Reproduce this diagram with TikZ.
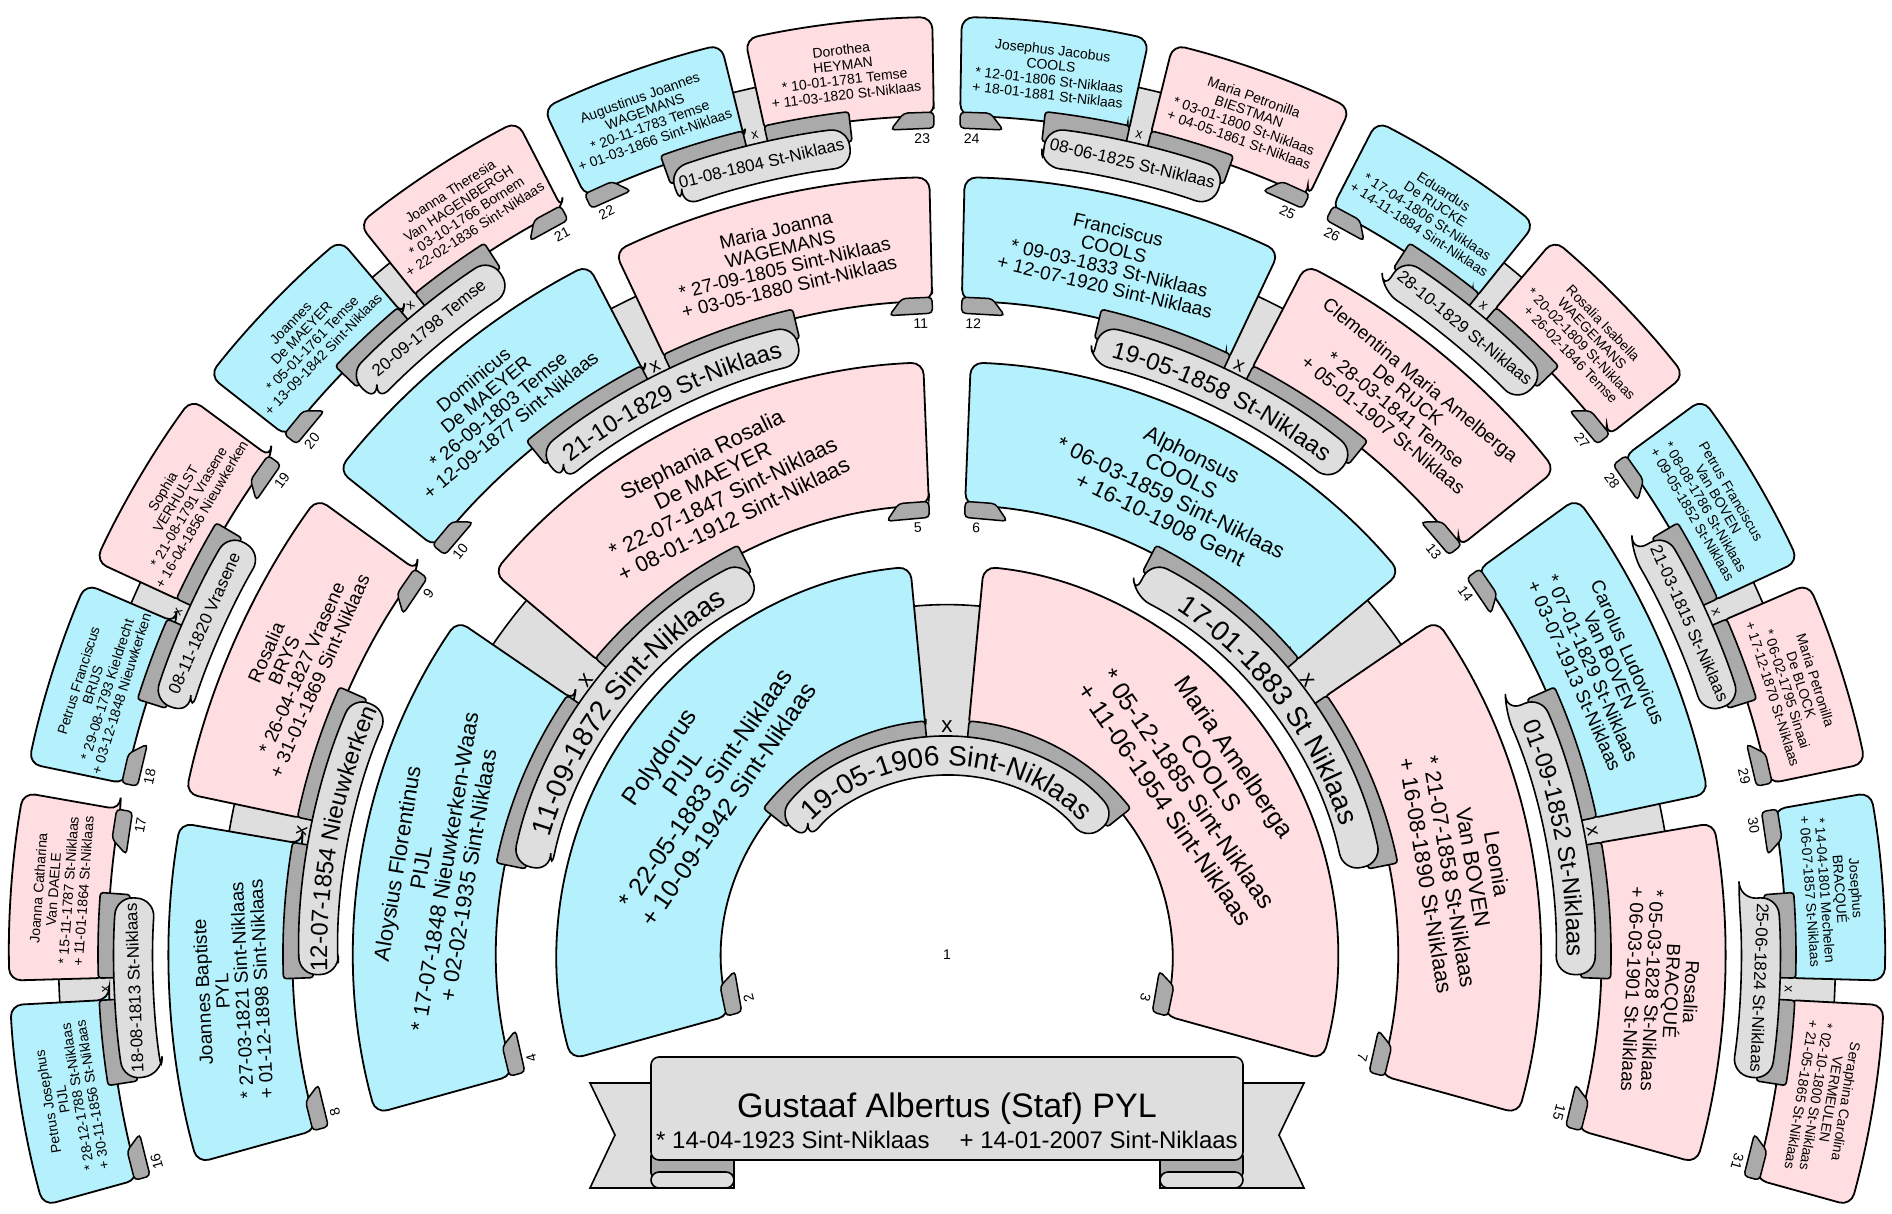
\documentclass[tikz,border=0pt]{standalone}
\usepackage{fontspec}
\setmainfont{Liberation Sans}
\usetikzlibrary{decorations.text}

\definecolor{male}{HTML}{B5F1FC}
\definecolor{female}{HTML}{FFDEE2}
\definecolor{lightrib}{HTML}{DEDEDE}
\definecolor{darkfold}{HTML}{AAAAAA}

\tikzset{
  box/.style={draw=black, line width=1.8pt, rounded corners=12pt},
  fold/.style={draw=black, line width=1.5pt, fill=darkfold, rounded corners=4pt},
  band/.style={draw=black, line width=1.6pt, fill=darkfold, rounded corners=3pt},
  ribbon/.style={draw=black, line width=1.6pt, fill=lightrib, rounded corners=18pt},
  conn/.style={draw=black, line width=1.6pt, fill=lightrib},
  ptext/.style={align=center, inner sep=0pt},
  numlabel/.style={font=\fontsize{14}{14}\selectfont, inner sep=0pt}
}

% radii, gaps and font sizes of one generation
\newcommand\setgen[1]{%
  \ifcase#1\or\or
    \def\rin{225}\def\rout{390}\def\ec{5.4}\def\en{0}\def\cf{0.76}\def\fs{25}\def\bs{28}\def\rfs{28}%
  \or
    \def\rin{450}\def\rout{593}\def\ec{2.9}\def\en{2.3}\def\cf{0.7}\def\fs{22}\def\bs{24}\def\rfs{28}%
  \or
    \def\rin{654}\def\rout{778}\def\ec{1.1}\def\en{1.3}\def\cf{0.6}\def\fs{19}\def\bs{19.5}\def\rfs{24}%
  \or
    \def\rin{839}\def\rout{938}\def\ec{0.75}\def\en{0.9}\def\cf{0.5}\def\fs{14}\def\bs{15}\def\rfs{17}%
  \fi
  \def\rfont{\fontsize{\rfs}{\rfs}\selectfont}%
  \pgfmathsetmacro\slotw{211/2^(#1-1)}}

% one ancestor: generation, index in generation, text
\newcommand\person[3]{%
  \setgen{#1}%
  \pgfmathtruncatemacro\pnum{2^(#1-1)+#2}%
  \pgfmathsetmacro\shi{195.5-#2*\slotw}%
  \pgfmathsetmacro\slo{\shi-\slotw}%
  \ifodd#2\relax
    \pgfmathsetmacro\ahi{\shi-\ec}%
    \pgfmathsetmacro\alo{\slo<-15?\slo:\slo+\en}%
    \def\col{female}\let\af\alo\def\sg{1}%
  \else
    \pgfmathsetmacro\ahi{\shi>195?\shi:\shi-\en}%
    \pgfmathsetmacro\alo{\slo+\ec}%
    \def\col{male}\let\af\ahi\def\sg{-1}%
  \fi
  \pgfmathsetmacro\amid{(\alo+\ahi)/2}%
  \pgfmathsetmacro\rmid{(\rin+\rout)/2}%
  \filldraw[box, fill=\col] (\alo:\rin) -- (\alo:\rout)
    arc[start angle=\alo, end angle=\ahi, radius=\rout] -- (\ahi:\rin)
    arc[start angle=\ahi, end angle=\alo, radius=\rin] -- cycle;
  \pgfmathsetmacro\foldA{\af+\sg*30/\rin*57.3}%
  \pgfmathsetmacro\foldB{\af+\sg*44/\rin*57.3}%
  \pgfmathsetmacro\rinP{\rin+4}\pgfmathsetmacro\rinM{\rin-12}%
  \filldraw[fold] (\af:\rinP) -- (\foldA:\rinP) -- (\foldB:\rinM) -- (\af:\rinM) -- cycle;
  \pgfmathsetmacro\labR{\rin-22}%
  \pgfmathsetmacro\labA{\af+\sg*12/\labR*57.3}%
  \node[numlabel, rotate=\af-90] (n\pnum) at (\labA:\labR) {\pnum};
  \node[ptext, font=\fontsize{\fs}{\bs}\selectfont, rotate=\amid-90] (p\pnum) at (\amid:\rmid) {#3};
}

% light grey link behind a couple
\newcommand\couplelink[2]{%
  \setgen{#1}%
  \pgfmathsetmacro\cAng{195.5-(2*#2+1)*\slotw}%
  \pgfmathsetmacro\gA{\cAng-\ec-0.8}\pgfmathsetmacro\gB{\cAng+\ec+0.8}%
  \pgfmathsetmacro\conA{\rin-25}\pgfmathsetmacro\conB{\rin+\cf*(\rout-\rin)}%
  \filldraw[conn] (\gA:\conA) -- (\gA:\conB)
    arc[start angle=\gA, end angle=\gB, radius=\conB] -- (\gB:\conA)
    arc[start angle=\gB, end angle=\gA, radius=\conA] -- cycle;
}

% marriage ribbon of a couple
\newcommand\couplevow[3]{%
  \setgen{#1}%
  \pgfmathsetmacro\cAng{195.5-(2*#2+1)*\slotw}%
  \pgfmathtruncatemacro\pnum{2^(#1-1)+2*#2}%
  \pgfmathsetmacro\hs{0.48*\slotw}%
  \pgfmathsetmacro\bandA{\rin-20}\pgfmathsetmacro\bandB{\rin+10}%
  \pgfmathsetmacro\slant{3/\rin*57.3}%
  \pgfmathsetmacro\uA{\cAng+\ec}\pgfmathsetmacro\uB{\cAng+\hs+\slant}%
  \pgfmathsetmacro\dA{\cAng-\ec}\pgfmathsetmacro\dB{\cAng-\hs-\slant}%
  \filldraw[band] (\uA:\bandA) -- (\uA:\bandB)
    arc[start angle=\uA, end angle=\uB, radius=\bandB] -- (\uB:\bandA)
    arc[start angle=\uB, end angle=\uA, radius=\bandA] -- cycle;
  \filldraw[band] (\dA:\bandA) -- (\dA:\bandB)
    arc[start angle=\dA, end angle=\dB, radius=\bandB] -- (\dB:\bandA)
    arc[start angle=\dB, end angle=\dA, radius=\bandA] -- cycle;
  \pgfmathsetmacro\ribA{\rin-45}\pgfmathsetmacro\ribB{\rin-6}%
  \pgfmathsetmacro\eA{\cAng+\hs}\pgfmathsetmacro\eB{\cAng-\hs}%
  \filldraw[ribbon] (\eA:\ribA) -- (\eA:\ribB)
    arc[start angle=\eA, end angle=\eB, radius=\ribB] -- (\eB:\ribA)
    arc[start angle=\eB, end angle=\eA, radius=\ribA] -- cycle;
  \ifnum#1=5
    \pgfmathsetmacro\rmid{\rin-25.5}%
    \node[font=\rfont, rotate=\cAng-90, inner sep=0pt] (m\pnum) at (\cAng:\rmid) {#3};
  \else
    \pgfmathsetmacro\rbase{\rin-25.5-0.36*\rfs}%
    \pgfmathsetmacro\txA{\cAng+\hs+3}\pgfmathsetmacro\txB{\cAng-\hs-3}%
    \path[decorate, decoration={text along path, text align=center, text={|\rfont|#3}}]
      (\txA:\rbase) arc[start angle=\txA, end angle=\txB, radius=\rbase];
  \fi
  \pgfmathsetmacro\xfs{0.8*\rfs}\pgfmathsetmacro\xr{\rin+3}%
  \node[font=\fontsize{\xfs}{\xfs}\selectfont, rotate=\cAng-90, inner sep=0pt] (x\pnum) at (\cAng:\xr) {x};
}

\begin{document}
\begin{tikzpicture}[x=1pt, y=1pt]
\useasboundingbox (-947,-258) rectangle (945,955);

% root banner
\filldraw[conn] (-357,-128) -- (-213,-128) -- (-213,-233) -- (-357,-233) -- (-332,-180) -- cycle;
\filldraw[conn] (357,-128) -- (213,-128) -- (213,-233) -- (357,-233) -- (332,-180) -- cycle;
\filldraw[band] (-296,-221) rectangle (-213,-198);
\filldraw[band] (296,-221) rectangle (213,-198);
\filldraw[ribbon, rounded corners=8pt] (-296,-205) rectangle (296,-102);
\filldraw[ribbon, rounded corners=8pt] (-296,-233) rectangle (-213,-217);
\filldraw[ribbon, rounded corners=8pt] (296,-233) rectangle (213,-217);
\node[font=\fontsize{34}{34}\selectfont, anchor=base] (p1) at (0,-162) {Gustaaf Albertus (Staf) PYL};
\node[font=\fontsize{24}{24}\selectfont, anchor=base] (d1) at (0,-193) {* 14-04-1923 Sint-Niklaas\hspace{30pt}+ 14-01-2007 Sint-Niklaas};
\node[numlabel] (n1) at (0,0) {1};

% links behind the couples
\couplelink{2}{0}
\foreach \cp in {0,1} {\couplelink{3}{\cp}}
\foreach \cp in {0,...,3} {\couplelink{4}{\cp}}
\foreach \cp in {0,...,7} {\couplelink{5}{\cp}}

% generation 2
\person{2}{0}{Polydorus\\PIJL\\* 22-05-1883 Sint-Niklaas\\+ 10-09-1942 Sint-Niklaas}
\person{2}{1}{Maria Amelberga\\COOLS\\* 05-12-1885 Sint-Niklaas\\+ 11-06-1954 Sint-Niklaas}
% generation 3
\person{3}{0}{Aloysius Florentinus\\PIJL\\* 17-07-1848 Nieuwkerken-Waas\\+ 02-02-1935 Sint-Niklaas}
\person{3}{1}{Stephania Rosalia\\De MAEYER\\* 22-07-1847 Sint-Niklaas\\+ 08-01-1912 Sint-Niklaas}
\person{3}{2}{Alphonsus\\COOLS\\* 06-03-1859 Sint-Niklaas\\+ 16-10-1908 Gent}
\person{3}{3}{Leonia\\Van BOVEN\\* 21-07-1858 St-Niklaas\\+ 16-08-1890 St-Niklaas}
% generation 4
\person{4}{0}{Joannes Baptiste\\PYL\\* 27-03-1821 Sint-Niklaas\\+ 01-12-1898 Sint-Niklaas}
\person{4}{1}{Rosalia\\BRYS\\* 26-04-1827 Vrasene\\+ 31-01-1869 Sint-Niklaas}
\person{4}{2}{Dominicus\\De MAEYER\\* 26-09-1803 Temse\\+ 12-09-1877 Sint-Niklaas}
\person{4}{3}{Maria Joanna\\WAGEMANS\\* 27-09-1805 Sint-Niklaas\\+ 03-05-1880 Sint-Niklaas}
\person{4}{4}{Franciscus\\COOLS\\* 09-03-1833 St-Niklaas\\+ 12-07-1920 Sint-Niklaas}
\person{4}{5}{Clementina Maria Amelberga\\De RIJCK\\* 28-03-1841 Temse\\+ 05-01-1907 St-Niklaas}
\person{4}{6}{Carolus Ludovicus\\Van BOVEN\\* 07-01-1829 St-Niklaas\\+ 03-07-1913 St-Niklaas}
\person{4}{7}{Rosalia\\BRACQUÉ\\* 05-03-1828 St-Niklaas\\+ 06-03-1901 St-Niklaas}
% generation 5
\person{5}{0}{Petrus Josephus\\PIJL\\* 28-12-1788 St-Niklaas\\+ 30-11-1856 St-Niklaas}
\person{5}{1}{Joanna Catharina\\Van DAELE\\* 15-11-1787 St-Niklaas\\+ 11-01-1864 St-Niklaas}
\person{5}{2}{Petrus Franciscus\\BRIJS\\* 29-08-1793 Kieldrecht\\+ 03-12-1848 Nieuwkerken}
\person{5}{3}{Sophia\\VERHULST\\* 21-08-1791 Vrasene\\+ 16-04-1856 Nieuwkerken}
\person{5}{4}{Joannes\\De MAEYER\\* 05-01-1761 Temse\\+ 13-09-1842 Sint-Niklaas}
\person{5}{5}{Joanna Theresia\\Van HAGENBERGH\\* 03-10-1766 Bornem\\+ 22-02-1836 Sint-Niklaas}
\person{5}{6}{Augustinus Joannes\\WAGEMANS\\* 20-11-1783 Temse\\+ 01-03-1866 Sint-Niklaas}
\person{5}{7}{Dorothea\\HEYMAN\\* 10-01-1781 Temse\\+ 11-03-1820 St-Niklaas}
\person{5}{8}{Josephus Jacobus\\COOLS\\* 12-01-1806 St-Niklaas\\+ 18-01-1881 St-Niklaas}
\person{5}{9}{Maria Petronilla\\BIESTMAN\\* 03-01-1800 St-Niklaas\\+ 04-05-1861 St-Niklaas}
\person{5}{10}{Eduardus\\De RIJCKE\\* 17-04-1806 St-Niklaas\\+ 14-11-1884 Sint-Niklaas}
\person{5}{11}{Rosalia Isabella\\WAEGEMANS\\* 20-02-1809 St-Niklaas\\+ 26-02-1846 Temse}
\person{5}{12}{Petrus Franciscus\\Van BOVEN\\* 08-08-1786 St-Niklaas\\+ 09-05-1852 St-Niklaas}
\person{5}{13}{Maria Petronilla\\De BLOCK\\* 06-02-1795 Sinaai\\+ 17-12-1870 St-Niklaas}
\person{5}{14}{Josephus\\BRACQUÉ\\* 14-04-1801 Mechelen\\+ 06-07-1857 St-Niklaas}
\person{5}{15}{Seraphina Carolina\\VERMEULEN\\* 02-10-1800 St-Niklaas\\+ 21-05-1865 St-Niklaas}

% marriage ribbons
\couplevow{2}{0}{19-05-1906 Sint-Niklaas}
\couplevow{3}{0}{11-09-1872 Sint-Niklaas}
\couplevow{3}{1}{17-01-1883 St Niklaas}
\couplevow{4}{0}{12-07-1854 Nieuwkerken}
\couplevow{4}{1}{21-10-1829 St-Niklaas}
\couplevow{4}{2}{19-05-1858 St-Niklaas}
\couplevow{4}{3}{01-09-1852 St-Niklaas}
\couplevow{5}{0}{18-08-1813 St-Niklaas}
\couplevow{5}{1}{08-11-1820 Vrasene}
\couplevow{5}{2}{20-09-1798 Temse}
\couplevow{5}{3}{01-08-1804 St-Niklaas}
\couplevow{5}{4}{08-06-1825 St-Niklaas}
\couplevow{5}{5}{28-10-1829 St-Niklaas}
\couplevow{5}{6}{21-03-1815 St-Niklaas}
\couplevow{5}{7}{25-06-1824 St-Niklaas}
\end{tikzpicture}
\end{document}
